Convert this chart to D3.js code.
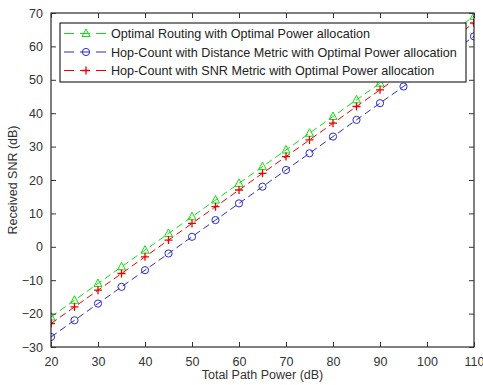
<!DOCTYPE html>
<html lang="en">
    <head>
        <meta charset="utf-8">
        <title>Received SNR vs Total Path Power</title>
        <script src="https://d3js.org/d3.v7.min.js"></script>
        <style type="text/css">
        body {
            margin: 0;
            background-color: white;
        }
        text {
            font-family: "Liberation Sans", Arial, sans-serif;
        }
        </style>
    </head>
    <body>
        <svg width="483" height="385"></svg>
        <script type="text/javascript">
            // data
            const power = [20, 25, 30, 35, 40, 45, 50, 55, 60, 65, 70, 75, 80, 85, 90, 95, 100, 105, 110];
            const optimalSnr = [-21, -16, -11, -6, -1, 4, 9, 14, 19, 24, 29, 34, 39, 44, 49, 54, 59, 64, 69];
            const distanceSnr = [-27, -22, -17, -12, -7, -2, 3, 8, 13, 18, 23, 28, 33, 38, 43, 48, 53, 58, 63];
            const snrMetricSnr = [-23, -18, -13, -8, -3, 2, 7, 12, 17, 22, 27, 32, 37, 42, 47, 52, 57, 62, 67];
            const seriesNames = [
                "Optimal Routing with Optimal Power allocation",
                "Hop-Count with Distance Metric with Optimal Power allocation",
                "Hop-Count with SNR Metric with Optimal Power allocation"
            ];
            const xTicks = [20, 30, 40, 50, 60, 70, 80, 90, 100, 110];
            const yTicks = [-30, -20, -10, 0, 10, 20, 30, 40, 50, 60, 70];

            const svg = d3.select("svg");
            const mLeft = 51, mRight = 474, mTop = 13, mBottom = 347;

            const x = d3.scaleLinear().domain([20, 110]).range([mLeft, mRight]);
            const y = d3.scaleLinear().domain([-30, 70]).range([mBottom, mTop]);

            const series = [
                {name: seriesNames[0], values: optimalSnr, color: "#11dd11", marker: "tri"},
                {name: seriesNames[1], values: distanceSnr, color: "#2a2ad0", marker: "circle"},
                {name: seriesNames[2], values: snrMetricSnr, color: "#ee0000", marker: "plus"}
            ];

            // clip to axes
            svg.append("clipPath").attr("id", "clip")
               .append("rect").attr("x", mLeft).attr("y", mTop)
               .attr("width", mRight - mLeft).attr("height", mBottom - mTop);

            const plot = svg.append("g").attr("clip-path", "url(#clip)");

            function drawMarker(g, kind, cx, cy, color) {
                if (kind === "tri") {
                    g.append("path")
                     .attr("d", `M${cx},${cy - 4.5}L${cx + 4},${cy + 3}L${cx - 4},${cy + 3}Z`)
                     .attr("fill", "none").attr("stroke", color).attr("stroke-width", 1);
                } else if (kind === "circle") {
                    g.append("circle").attr("cx", cx).attr("cy", cy).attr("r", 3.6)
                     .attr("fill", "none").attr("stroke", color).attr("stroke-width", 1);
                } else {
                    g.append("path")
                     .attr("d", `M${cx - 4},${cy}H${cx + 4}M${cx},${cy - 4}V${cy + 4}`)
                     .attr("stroke", color).attr("stroke-width", 1.3);
                }
            }

            const line = d3.line().x(d => x(d[0])).y(d => y(d[1]));

            series.forEach(s => {
                const pts = power.map((p, i) => [p, s.values[i]]);
                plot.append("path")
                    .datum(pts)
                    .attr("d", line)
                    .attr("fill", "none")
                    .attr("stroke", s.color)
                    .attr("stroke-width", 1)
                    .attr("stroke-dasharray", "7,4");
                pts.forEach(d => drawMarker(plot, s.marker, x(d[0]), y(d[1]), s.color));
            });

            // axes box with inward ticks on all sides
            const tickColor = "#333";
            svg.append("rect")
               .attr("x", mLeft).attr("y", mTop)
               .attr("width", mRight - mLeft).attr("height", mBottom - mTop)
               .attr("fill", "none").attr("stroke", "#000").attr("stroke-width", 1);

            const xa = svg.append("g").attr("transform", `translate(0,${mBottom})`)
                .call(d3.axisBottom(x).tickValues(xTicks).tickSizeInner(-5).tickSizeOuter(0).tickPadding(10));
            const xt = svg.append("g").attr("transform", `translate(0,${mTop})`)
                .call(d3.axisTop(x).tickValues(xTicks).tickSizeInner(-5).tickSizeOuter(0).tickFormat(""));
            const ya = svg.append("g").attr("transform", `translate(${mLeft},0)`)
                .call(d3.axisLeft(y).tickValues(yTicks).tickSizeInner(-5).tickSizeOuter(0).tickPadding(8));
            const yr = svg.append("g").attr("transform", `translate(${mRight},0)`)
                .call(d3.axisRight(y).tickValues(yTicks).tickSizeInner(-5).tickSizeOuter(0).tickFormat(""));

            [xa, xt, ya, yr].forEach(g => {
                g.select(".domain").remove();
                g.selectAll("line").attr("stroke", tickColor);
                g.selectAll("text").attr("fill", "#333").style("font-size", "12.5px")
                 .style("font-family", "'Liberation Sans', Arial, sans-serif");
            });

            // axis labels
            svg.append("text")
               .attr("x", (mLeft + mRight) / 2).attr("y", 379)
               .attr("text-anchor", "middle")
               .attr("fill", "#333").style("font-size", "12.5px")
               .text("Total Path Power (dB)");
            svg.append("text")
               .attr("transform", `translate(17,${(mTop + mBottom) / 2}) rotate(-90)`)
               .attr("text-anchor", "middle")
               .attr("fill", "#333").style("font-size", "12.5px")
               .text("Received SNR (dB)");

            // legend
            const lg = svg.append("g");
            lg.append("rect")
              .attr("x", 60).attr("y", 23).attr("width", 406).attr("height", 59)
              .attr("fill", "white").attr("stroke", "#000").attr("stroke-width", 1);
            series.forEach((s, i) => {
                const ry = 33.5 + i * 18.5;
                lg.append("line")
                  .attr("x1", 64).attr("x2", 107).attr("y1", ry).attr("y2", ry)
                  .attr("stroke", s.color).attr("stroke-width", 1)
                  .attr("stroke-dasharray", "10,6");
                drawMarker(lg, s.marker, 86, ry, s.color);
                lg.append("text")
                  .attr("x", 111).attr("y", ry + 4.5)
                  .attr("fill", "#222").style("font-size", "12.6px")
                  .text(s.name);
            });
        </script>
    </body>
</html>
